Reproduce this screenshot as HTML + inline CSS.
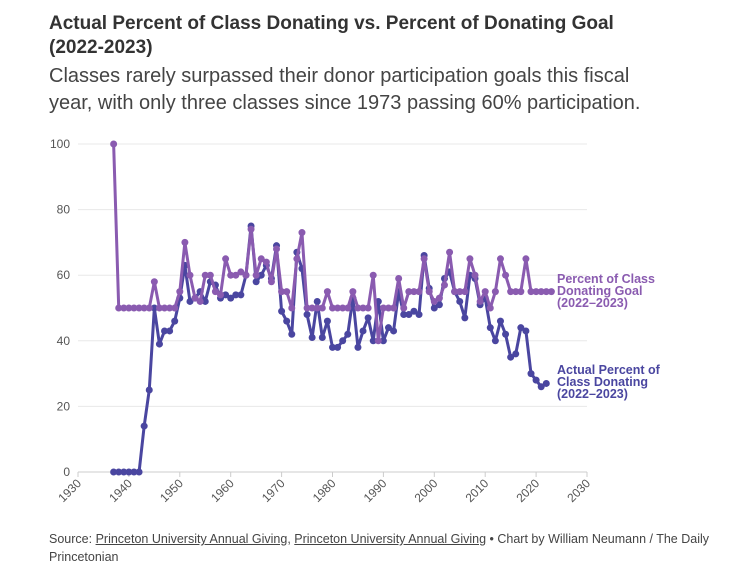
<!DOCTYPE html>
<html><head><meta charset="utf-8"><style>
body{margin:0;background:#fff;font-family:"Liberation Sans",sans-serif;width:749px;height:575px;overflow:hidden;position:relative}
.t{position:absolute;left:49px;top:12px;font-size:19px;font-weight:bold;color:#333;line-height:24px;width:620px}
.s{position:absolute;left:49px;top:63px;font-size:20px;color:#444;line-height:27px;width:625px}
.f{position:absolute;left:49px;top:530px;font-size:12.5px;color:#444;line-height:18px;width:662px}
.f u{text-decoration:underline}
svg{position:absolute;left:0;top:0}
</style></head><body>
<div class="t">Actual Percent of Class Donating vs. Percent of Donating Goal (2022-2023)</div>
<div class="s">Classes rarely surpassed their donor participation goals this fiscal year, with only three classes since 1973 passing 60% participation.</div>
<svg id="c" width="749" height="575"></svg>
<div class="f">Source: <u>Princeton University Annual Giving</u>, <u>Princeton University Annual Giving</u> • Chart by William Neumann / The Daily Princetonian</div>
<script>
const years=[];for(let y=1937;y<=2023;y++)years.push(y);
const goalValues=[100,50,50,50,50,50,50,50,58,50,50,50,50,55,70,60,53,52,60,60,55,54,65,60,60,61,60,74,60,65,64,58,68,55,55,50,65,73,50,50,50,50,55,50,50,50,50,55,50,50,50,60,40,50,50,50,59,50,55,55,55,65,55,52,53,57,67,55,55,55,65,60,52,55,50,55,65,60,55,55,55,65,55,55,55,55,55];
const actualValues=[0,0,0,0,0,0,14,25,50,39,43,43,46,53,63,52,53,55,52,58,57,53,54,53,54,54,60,75,58,60,63,59,69,49,46,42,67,62,48,41,52,41,46,38,38,40,42,53,38,43,47,40,52,40,44,43,55,48,48,49,48,66,56,50,51,59,61,55,52,47,60,59,51,53,44,40,46,42,35,36,44,43,30,28,26,27,null];
const xTicks=[1930,1940,1950,1960,1970,1980,1990,2000,2010,2020,2030];
const yTicks=[0,20,40,60,80,100];
const X=v=>78+(v-1930)*5.09, Y=v=>472-v*3.28;
const svg=document.getElementById('c'),NS='http://www.w3.org/2000/svg';
function el(t,a,p){const e=document.createElementNS(NS,t);for(const k in a)e.setAttribute(k,a[k]);(p||svg).appendChild(e);return e;}
yTicks.forEach(v=>{
 const g=el('line',{x1:78,x2:587,y1:Y(v),y2:Y(v),stroke:v?'#e8e8e8':'#ccc'});
 
 const t=el('text',{x:70,y:Y(v)+4,'text-anchor':'end','font-size':12,fill:'#555'});t.textContent=v;
 
});
xTicks.forEach(v=>{
 const l=el('line',{x1:X(v),x2:X(v),y1:472,y2:477,stroke:'#ccc'});
 
 const t=el('text',{x:0,y:0,'text-anchor':'end','font-size':12,fill:'#555',transform:`translate(${X(v)+4},${484}) rotate(-45)`});t.textContent=v;
 
});
function series(vals,col,name){
 let d='';vals.forEach((v,i)=>{if(v==null)return;d+=(d?'L':'M')+X(years[i])+','+Y(v);});
 const p=el('path',{d,fill:'none',stroke:col,'stroke-width':3,'stroke-linejoin':'round'});
 
 vals.forEach((v,i)=>{if(v==null)return;const c=el('circle',{cx:X(years[i]),cy:Y(v),r:3.5,fill:col});
 });
}
series(actualValues,'#4a46a0','actual');
series(goalValues,'#8a5bb0','goal');
function lab(lines,y,col,name){
 const t=el('text',{x:557,y,'font-size':12.5,'font-weight':'bold',fill:col});
 
 lines.forEach((s,i)=>{const ts=el('tspan',{x:557,dy:i?12:0},t);ts.textContent=s;});
}
lab(['Percent of Class','Donating Goal','(2022–2023)'],283,'#8a5bb0','goal-label');
lab(['Actual Percent of','Class Donating','(2022–2023)'],374,'#4a46a0','actual-label');
</script>
</body></html>
